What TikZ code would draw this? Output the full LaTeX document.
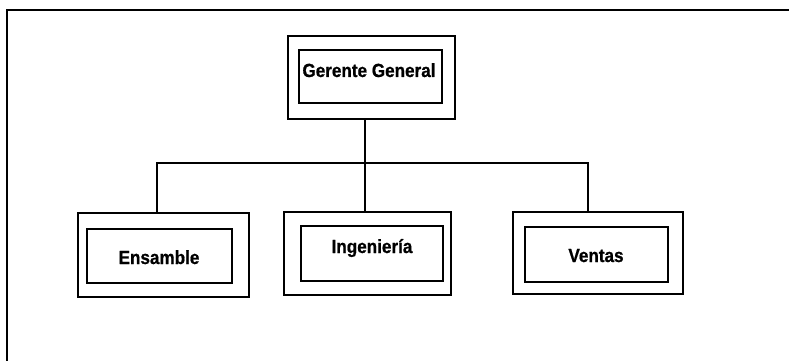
\documentclass[tikz,border=0pt]{standalone}
\usepackage{fontspec}
\setmainfont{Liberation Sans}
\newfontfamily\orgfont[FakeStretch=0.9,BoldFeatures={FakeBold=0.8}]{Liberation Sans}
\begin{document}
\begin{tikzpicture}[x=1pt,y=-1pt,
  outerbox/.style={draw, line width=1.2pt, minimum width=#1, inner sep=0pt},
  innerbox/.style={draw, line width=1.2pt, inner sep=0pt},
  caption/.style={anchor=base, inner sep=0pt,
    font=\orgfont\fontsize{19}{22}\selectfont\bfseries},
  link/.style={line width=1.2pt}]
  \useasboundingbox (0,0) rectangle (789,361);
  % page frame (top and left edges)
  \draw[line width=1.5pt] (789,10) -- (7,10) -- (7,361);

  % top: general manager
  \node[outerbox=167pt, minimum height=83pt] (gg) at (371.5,77.5) {};
  \node[innerbox, minimum width=143pt, minimum height=53pt] (ggi) at (370.5,76.5) {};
  \node[caption] (ggt) at (369,77) {Gerente General};

  % departments
  \node[outerbox=171pt, minimum height=84pt] (ens) at (163.5,255) {};
  \node[innerbox, minimum width=145pt, minimum height=54pt] (ensi) at (159.5,256) {};
  \node[caption] (enst) at (159,264) {Ensamble};

  \node[outerbox=167pt, minimum height=83pt] (ing) at (367.5,253.5) {};
  \node[innerbox, minimum width=142pt, minimum height=55pt] (ingi) at (372,253.5) {};
  \node[caption] (ingt) at (372,253) {Ingeniería};

  \node[outerbox=170pt, minimum height=82pt] (ven) at (598,253) {};
  \node[innerbox, minimum width=143pt, minimum height=55pt] (veni) at (596.5,254.5) {};
  \node[caption] (vent) at (596,262) {Ventas};

  % connectors
  \coordinate (bus) at (365,163);
  \coordinate (busl) at (157,163);
  \coordinate (busr) at (588,163);
  \draw[link] (gg.south -| bus) -- (bus);
  \draw[link] (ens.north -| busl) -- (busl) -- (busr) -- (ven.north -| busr);
  \draw[link] (bus) -- (ing.north -| bus);
\end{tikzpicture}
\end{document}
